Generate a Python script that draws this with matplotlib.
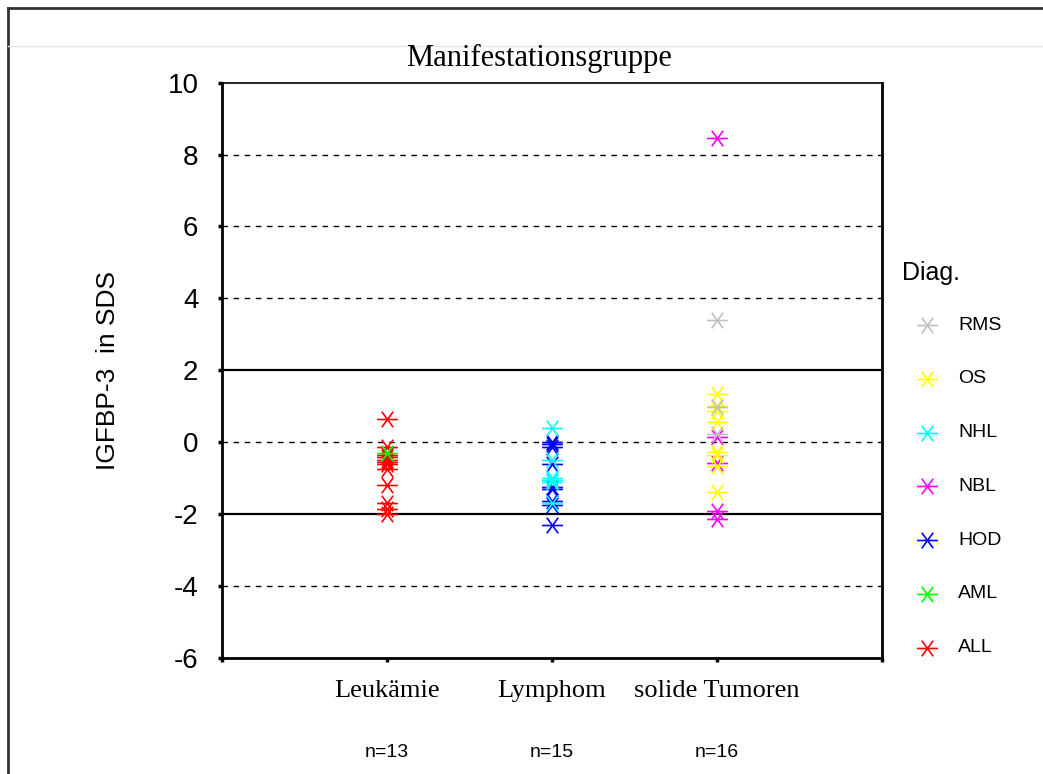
import matplotlib.pyplot as plt
from matplotlib.lines import Line2D
from matplotlib.path import Path

# Kategorien und Werte (IGFBP-3 in SDS)
groups = ['Leukämie', 'Lymphom', 'solide Tumoren']
group_n = ['n=13', 'n=15', 'n=16']

diag_labels = ['RMS', 'OS', 'NHL', 'NBL', 'HOD', 'AML', 'ALL']
diag_colors = ['#c0c0c0', '#ffff00', '#00ffff', '#ff00ff', '#0000ff', '#00ff00', '#ff0000']

all_vals = [0.64, -0.15, -0.35, -0.42, -0.5, -0.55, -0.6, -0.75, -1.2, -1.7, -1.85, -2.0]
aml_vals = [-0.3]
hod_vals = [0.0, -0.05, -0.15, -0.6, -1.25, -1.3, -1.65, -1.75, -2.3]
nhl_vals = [0.4, -0.5, -1.0, -1.05, -1.1, -1.7]
nbl_vals = [8.45, 0.13, -0.57, -1.91, -2.15]
os_vals = [1.34, 1.0, 0.85, 0.55, -0.29, -0.35, -0.66, -1.4]
rms_vals = [3.4, 0.97, 0.22]

# Zuordnung Diagnose -> Gruppe (1 = Leukämie, 2 = Lymphom, 3 = solide Tumoren)
series = [
    ('ALL', 1, all_vals),
    ('AML', 1, aml_vals),
    ('HOD', 2, hod_vals),
    ('NHL', 2, nhl_vals),
    ('NBL', 3, nbl_vals),
    ('OS', 3, os_vals),
    ('RMS', 3, rms_vals),
]

color_of = dict(zip(diag_labels, diag_colors))

# Sternchen: waagrechter Strich + zwei Diagonalen (etwas breiter als hoch)
star = Path([(-1, 0), (1, 0), (-0.55, -0.75), (0.55, 0.75), (-0.55, 0.75), (0.55, -0.75)],
            [Path.MOVETO, Path.LINETO] * 3)
msize = 15

fig = plt.figure(figsize=(10.43, 7.74), dpi=100)
ax = fig.add_axes([0.2129, 0.1503, 0.6328, 0.7429])

# Referenzlinien
for y in [-4, 0, 4, 6, 8]:
    ax.axhline(y, color='black', linestyle=(0, (4, 4)), linewidth=1.0, zorder=1)
for y in [-2, 2]:
    ax.axhline(y, color='black', linewidth=1.6, zorder=1)

for name, grp, vals in series:
    ax.plot([grp] * len(vals), vals, linestyle='none', marker=star,
            markersize=msize, markeredgewidth=1.2, color=color_of[name], zorder=3)

ax.set_xlim(0, 4)
ax.set_ylim(-6, 10)
ax.set_yticks(range(-6, 11, 2))
ax.set_yticklabels([str(v) for v in range(-6, 11, 2)], fontsize=20, family='Liberation Sans')
ax.set_xticks([0, 1, 2, 3, 4])
ax.set_xticklabels([])
ax.tick_params(direction='out', length=3, width=2.5, pad=14)
for s in ['left', 'bottom', 'right']:
    ax.spines[s].set_linewidth(2)
ax.spines['top'].set_linewidth(1.2)
ax.spines['top'].set_linestyle((0, (6, 1)))

ax.set_ylabel('IGFBP-3  in SDS', fontsize=19, family='Liberation Sans', labelpad=34)

# Titel und Gruppenbeschriftungen
fig.text(539 / 1043, 1 - 58 / 774, 'Manifestationsgruppe', ha='center', va='center',
         fontsize=22, family='Liberation Serif')
for i, (g, n) in enumerate(zip(groups, group_n)):
    ax.text(i + 1, -6.92, g, ha='center', va='center', fontsize=19, family='Liberation Serif')
    ax.text(i + 1, -8.65, n, ha='center', va='center', fontsize=14, family='Liberation Sans')

# Legende (manuell gesetzt)
fig.text(902 / 1043, 1 - 273 / 774, 'Diag.', ha='left', va='center', fontsize=18,
         family='Liberation Sans')
for k, (lab, col) in enumerate(zip(diag_labels, diag_colors)):
    yy = 1 - (325 + k * 53.8) / 774
    fig.add_artist(Line2D([927 / 1043], [yy], marker=star, markersize=msize,
                          markeredgewidth=1.2, color=col, linestyle='none'))
    fig.text(958 / 1043, yy, lab, ha='left', va='center', fontsize=14, family='Liberation Sans')

# Rahmen der Vorlage
fig.add_artist(Line2D([8 / 1043, 8 / 1043], [0, 1 - 8 / 774], color='#333333', linewidth=2))
fig.add_artist(Line2D([8 / 1043, 1], [1 - 8 / 774, 1 - 8 / 774], color='#333333', linewidth=2))
fig.add_artist(Line2D([8 / 1043, 1], [1 - 46 / 774, 1 - 46 / 774], color='#e8e8e8', linewidth=1))

fig.savefig('out.png', dpi=100)
